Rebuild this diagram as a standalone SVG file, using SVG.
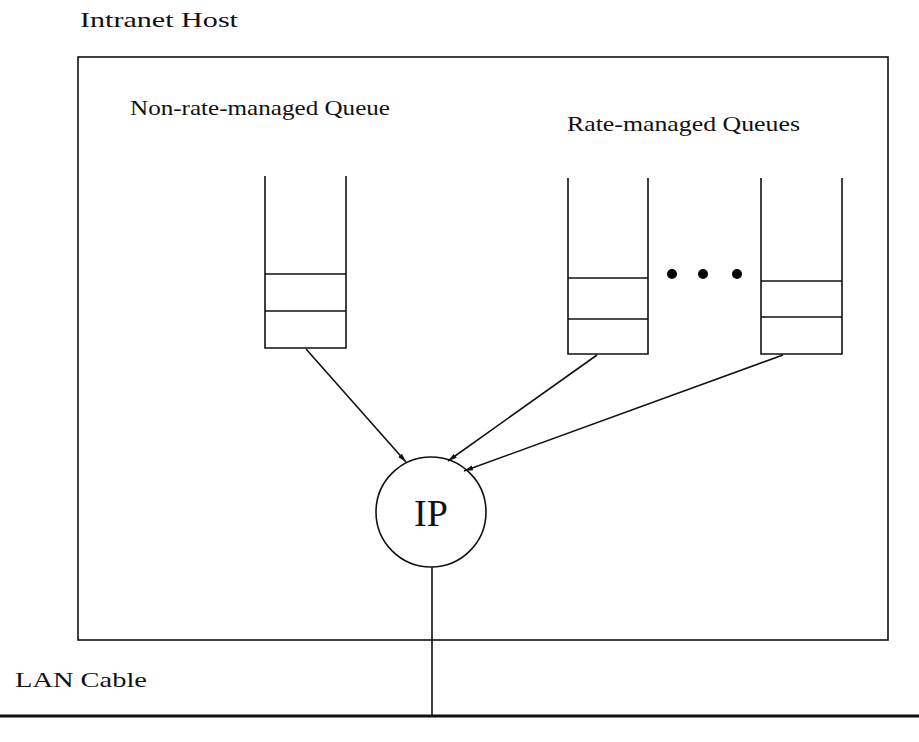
<svg xmlns="http://www.w3.org/2000/svg" width="919" height="742" viewBox="0 0 919 742">
<defs>
<style>
.ln{fill:none;stroke:#111;stroke-width:1.6}
.lbl{font-family:"Liberation Serif","DejaVu Serif",serif;font-size:21px;fill:#111}
.ip{font-family:"Liberation Serif","DejaVu Serif",serif;font-size:38px;fill:#111}
.dot{fill:#000}
</style>
<marker id="ah" markerWidth="10" markerHeight="6" refX="9" refY="3" orient="auto" markerUnits="userSpaceOnUse">
<path d="M0,0.5 L9,3 L0,5.5 Z" fill="#111"/>
</marker>
</defs>
<rect width="919" height="742" fill="#fff"/>
<text class="lbl" x="80" y="27" textLength="158" lengthAdjust="spacingAndGlyphs">Intranet Host</text>
<g id="host">
<rect class="ln" x="78" y="57" width="810" height="583"/>
</g>
<text class="lbl" x="130" y="115" textLength="260" lengthAdjust="spacingAndGlyphs">Non-rate-managed Queue</text>
<text class="lbl" x="567" y="131" textLength="233" lengthAdjust="spacingAndGlyphs">Rate-managed Queues</text>
<g id="queue1">
<path class="ln" d="M265,176 V348 H346 V176 M265,274 H346 M265,311 H346"/>
</g>
<g id="queue2">
<path class="ln" d="M568,178 V354 H648 V178 M568,278 H648 M568,319 H648"/>
</g>
<g id="dots">
<circle class="dot" cx="672" cy="274" r="5"/>
<circle class="dot" cx="703" cy="274" r="5"/>
<circle class="dot" cx="737" cy="274" r="5"/>
</g>
<g id="queue3">
<path class="ln" d="M761,178 V354 H842 V178 M761,281 H842 M761,317 H842"/>
</g>
<g id="ip">
<circle class="ln" cx="431" cy="512" r="55"/>
<text class="ip" x="431" y="526" text-anchor="middle">IP</text>
</g>
<g id="connectors">
<line class="ln" x1="306" y1="349" x2="406" y2="462" marker-end="url(#ah)"/>
<line class="ln" x1="597" y1="355" x2="448" y2="461" marker-end="url(#ah)"/>
<line class="ln" x1="783" y1="355" x2="464" y2="471" marker-end="url(#ah)"/>
<line class="ln" x1="432" y1="567" x2="432" y2="716"/>
</g>
<text class="lbl" x="15" y="687" textLength="132" lengthAdjust="spacingAndGlyphs">LAN Cable</text>
<g id="lan">
<line x1="0" y1="716" x2="919" y2="716" stroke="#111" stroke-width="3"/>
</g>
</svg>
